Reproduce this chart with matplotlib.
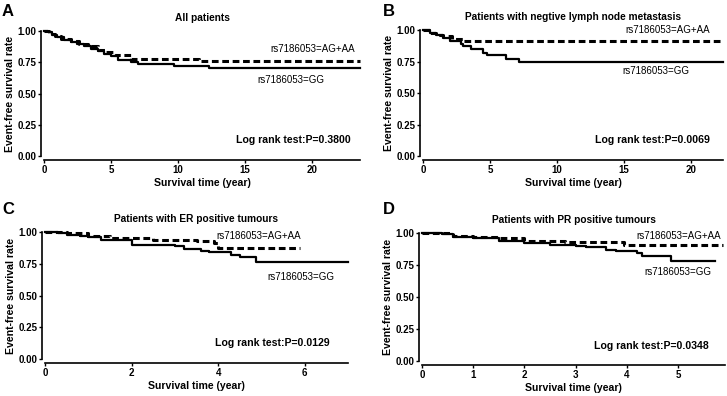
import matplotlib.pyplot as plt

plt.rcParams['font.family'] = ['Liberation Sans', 'DejaVu Sans']

# Panel A: all patients
a_gg_t = [0, 0.3, 0.6, 1.0, 1.5, 2.0, 2.5, 3.0, 3.5, 4.0, 4.5, 5.0, 5.5, 6.5, 7.0, 9.7, 12.3, 23.6]
a_gg_s = [1.0, 0.99, 0.97, 0.95, 0.93, 0.91, 0.90, 0.88, 0.86, 0.84, 0.82, 0.80, 0.77, 0.75, 0.74, 0.723, 0.707, 0.707]
a_ag_t = [0, 0.4, 0.8, 1.3, 2.0, 2.6, 3.3, 4.0, 4.6, 5.2, 6.5, 11.6, 23.6]
a_ag_s = [1.0, 0.98, 0.96, 0.94, 0.92, 0.90, 0.88, 0.85, 0.83, 0.81, 0.78, 0.757, 0.757]

# Panel B: negative lymph node metastasis
b_gg_t = [0, 0.5, 1.0, 1.5, 2.0, 2.8, 3.0, 3.6, 4.5, 4.8, 6.2, 7.2, 22.4]
b_gg_s = [1.0, 0.98, 0.96, 0.94, 0.91, 0.89, 0.87, 0.85, 0.82, 0.80, 0.77, 0.75, 0.75]
b_ag_t = [0, 0.5, 1.0, 1.5, 2.2, 3.0, 22.4]
b_ag_s = [1.0, 0.98, 0.96, 0.95, 0.93, 0.913, 0.913]

# Panel C: ER positive tumours
c_gg_t = [0, 0.3, 0.5, 0.8, 1.0, 1.3, 2.0, 3.0, 3.2, 3.6, 3.8, 4.3, 4.5, 4.88, 7.0]
c_gg_s = [1.0, 0.99, 0.98, 0.97, 0.96, 0.94, 0.90, 0.89, 0.87, 0.85, 0.84, 0.82, 0.80, 0.76, 0.76]
c_ag_t = [0, 0.5, 1.0, 1.5, 2.5, 3.5, 3.9, 4.0, 5.9]
c_ag_s = [1.0, 0.99, 0.97, 0.955, 0.94, 0.93, 0.91, 0.876, 0.876]

# Panel D: PR positive tumours
d_gg_t = [0, 0.4, 0.6, 1.0, 1.5, 2.0, 2.5, 3.0, 3.2, 3.6, 3.8, 4.2, 4.3, 4.87, 5.72]
d_gg_s = [1.0, 0.99, 0.97, 0.96, 0.94, 0.92, 0.91, 0.90, 0.89, 0.87, 0.86, 0.84, 0.82, 0.78, 0.78]
d_ag_t = [0, 0.6, 1.0, 1.5, 2.0, 2.8, 3.95, 5.88]
d_ag_s = [1.0, 0.98, 0.97, 0.96, 0.94, 0.93, 0.91, 0.91]

letters = ['A', 'B', 'C', 'D']
titles = ['All patients', 'Patients with negtive lymph node metastasis',
          'Patients with ER positive tumours', 'Patients with PR positive tumours']
pvals = ['0.3800', '0.0069', '0.0129', '0.0348']
xmax = [23.6, 22.4, 7.0, 5.92]
xticks = [[0, 5, 10, 15, 20], [0, 5, 10, 15, 20], [0, 2, 4, 6], [0, 1, 2, 3, 4, 5]]
curves = [(a_gg_t, a_gg_s, a_ag_t, a_ag_s), (b_gg_t, b_gg_s, b_ag_t, b_ag_s),
          (c_gg_t, c_gg_s, c_ag_t, c_ag_s), (d_gg_t, d_gg_s, d_ag_t, d_ag_s)]
# label positions (data coords): AG+AA, GG, log rank
lab_pos = [((20.1, 0.853), (18.45, 0.61), (18.6, 0.128)),
           ((18.3, 1.0), (17.4, 0.675), (17.1, 0.127)),
           ((4.94, 0.97), (5.9, 0.645), (5.25, 0.126)),
           ((5.02, 0.974), (5.0, 0.697), (4.49, 0.117))]

rects = [[44/727, 0.606, 316/727, 125/396],
         [423/727, 0.606, 300/727, 126/396],
         [45/727, 0.0934, 303/727, 127/396],
         [422/727, 0.0884, 303/727, 128/396]]
letter_xy = [(8, 11), (389, 11), (8, 209), (389, 209)]

fig = plt.figure(figsize=(7.27, 3.96), dpi=100)
for i in range(4):
    ax = fig.add_axes(rects[i])
    gt, gs, at, as_ = curves[i]
    ax.plot(gt, gs, color='black', lw=1.6, drawstyle='steps-post', clip_on=False)
    ax.plot(at, as_, color='black', lw=2.2, ls=(0, (2.2, 1.2)), drawstyle='steps-post', clip_on=False)
    ax.set_xlim(0, xmax[i])
    ax.set_ylim(0, 1.0)
    ax.set_xticks(xticks[i])
    ax.set_yticks([0, 0.25, 0.5, 0.75, 1.0])
    ax.set_yticklabels(['0.00', '0.25', '0.50', '0.75', '1.00'])
    for s in ['top', 'right']:
        ax.spines[s].set_visible(False)
    ax.spines['left'].set_position(('outward', 2))
    ax.spines['bottom'].set_position(('outward', 3))
    ax.spines['left'].set_linewidth(1.2)
    ax.spines['bottom'].set_linewidth(1.2)
    ax.tick_params(length=2.5, width=1, labelsize=7, pad=1)
    for lab in ax.get_xticklabels() + ax.get_yticklabels():
        lab.set_fontweight('bold')
    ax.set_xlabel('Survival time (year)', fontsize=7.6, fontweight='bold', labelpad=2)
    ax.set_ylabel('Event-free survival rate', fontsize=7.6, fontweight='bold', labelpad=2)
    ax.set_title(titles[i], fontsize=7.3, fontweight='bold', pad=7)
    p1, p2, p3 = lab_pos[i]
    ax.text(p1[0], p1[1], 'rs7186053=AG+AA', fontsize=7, ha='center', va='center')
    ax.text(p2[0], p2[1], 'rs7186053=GG', fontsize=7, ha='center', va='center')
    ax.text(p3[0], p3[1], 'Log rank test:P=' + pvals[i], fontsize=7.6,
            fontweight='bold', ha='center', va='center')
    lx, ly = letter_xy[i]
    fig.text(lx / 727, 1 - ly / 396, letters[i], fontsize=12, fontweight='bold',
             ha='center', va='center')

fig.savefig('out.png', dpi=100)
